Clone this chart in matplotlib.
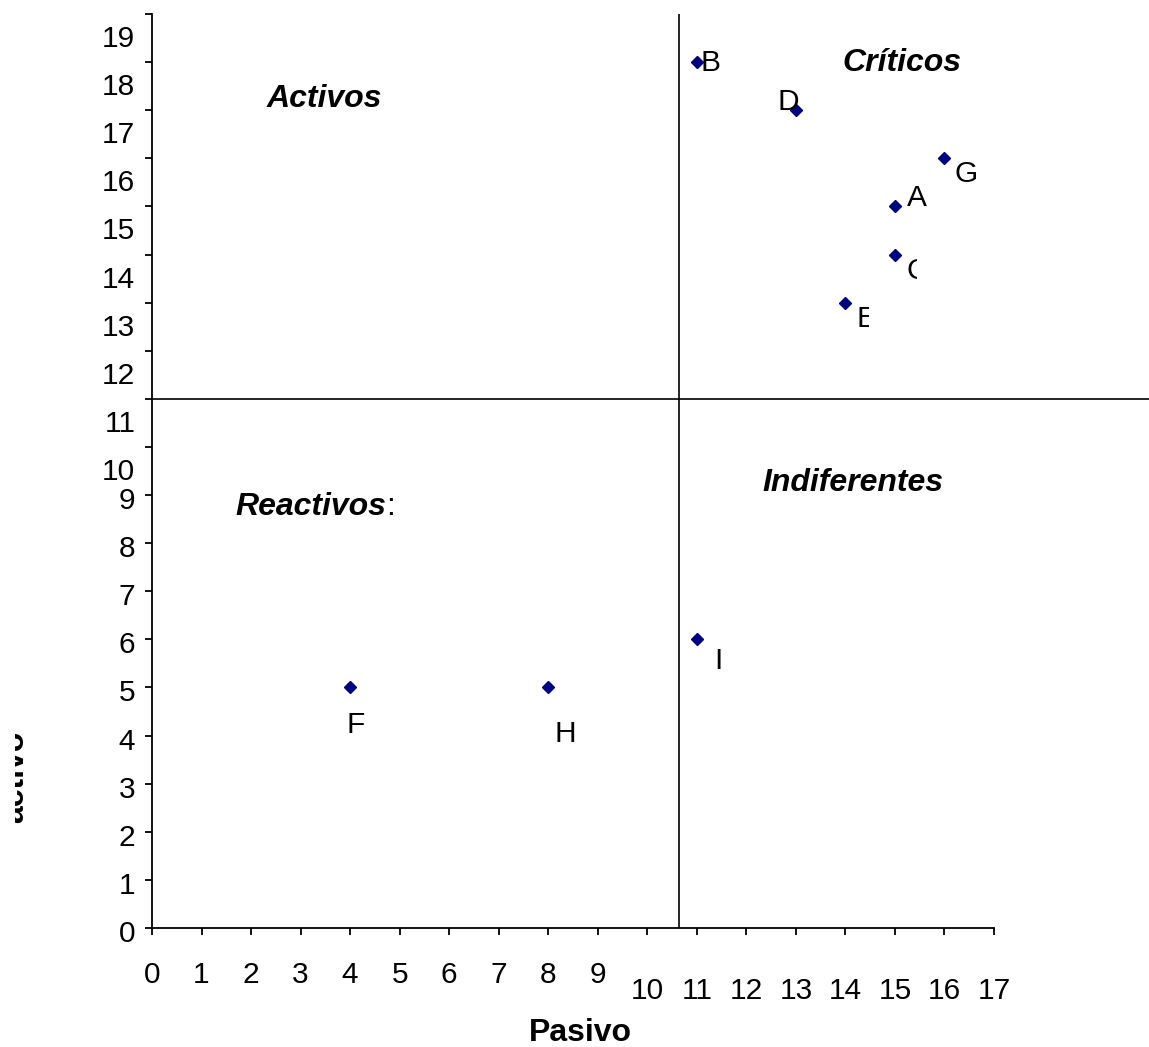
import matplotlib
matplotlib.use("Agg")
import matplotlib.pyplot as plt
from matplotlib.patches import Rectangle
from matplotlib.transforms import Bbox, TransformedBbox, ScaledTranslation

plt.rcParams["font.family"] = ["Liberation Sans", "DejaVu Sans"]

# ---- data ----
nombres = ["A", "B", "C", "D", "E", "F", "G", "H", "I"]
pasivo = [15, 11, 15, 13, 14, 4, 16, 8, 11]
activo = [15, 18, 14, 17, 13, 5, 16, 5, 6]

x_bajos = list(range(0, 10))     # first row of x labels
x_altos = list(range(10, 18))    # second (lower) row of x labels
y_bajos = list(range(0, 10))
y_altos = list(range(10, 20))

# quadrant split
corte_x = 10.64
corte_y = 11

# label offsets in pixels (dx, dy) with dy pointing down
desplaz = {"A": (22, -8), "B": (14, 1), "C": (22, 16), "D": (-8, -8),
           "E": (21, 16), "F": (6, 38), "G": (22, 16), "H": (17, 47),
           "I": (22, 22)}
# labels cut off on the right in the original
recorte = {"C": 15.45, "E": 14.48}

FS = 21.5    # ticks and point labels
FT = 23      # titles
W, H = 1149, 1047

fig = plt.figure(figsize=(W / 100, H / 100), dpi=100)
ax = fig.add_axes([152 / W, (H - 928) / H, (994 - 152) / W, (928 - 14) / H])

ax.set_xlim(0, 17)
ax.set_ylim(0, 19)
for s in ["top", "right"]:
    ax.spines[s].set_visible(False)
for s in ["left", "bottom"]:
    ax.spines[s].set_linewidth(1.3)

ax.set_xticks(x_bajos)
ax.set_xticks(x_altos, minor=True)
ax.set_xticklabels([str(v) for v in x_bajos])
ax.set_xticklabels([str(v) for v in x_altos], minor=True)
ax.set_yticks(y_bajos)
ax.set_yticks(y_altos, minor=True)
ax.set_yticklabels([str(v) for v in y_bajos])
ax.set_yticklabels([str(v) for v in y_altos], minor=True)

ax.tick_params(axis="both", which="both", direction="out", length=5,
               width=1.3, labelsize=FS)
ax.tick_params(axis="x", which="major", pad=19)
ax.tick_params(axis="x", which="minor", pad=30)
ax.tick_params(axis="y", which="both", pad=7)

for lbl in ax.get_yticklabels():
    lbl.set_transform(lbl.get_transform() + ScaledTranslation(0, -3 / 100, fig.dpi_scale_trans))
for lbl in ax.get_yticklabels(minor=True):
    lbl.set_transform(lbl.get_transform() + ScaledTranslation(0, -22 / 100, fig.dpi_scale_trans))

# quadrant lines
ax.axvline(corte_x, color="black", lw=1.2)
ax.axhline(corte_y, xmin=0, xmax=(W - 152) / (994 - 152), color="black",
           lw=1.2, clip_on=False)

# points
ax.plot(pasivo, activo, linestyle="none", marker="D", ms=6,
        color="#000080", clip_on=False, zorder=3)

for n, px, py in zip(nombres, pasivo, activo):
    dx, dy = desplaz[n]
    t = ax.annotate(n, (px, py), xytext=(dx, -dy), textcoords="offset pixels",
                    ha="center", va="center", fontsize=FS)
    if n in recorte:
        t.set_clip_on(True)
        t.set_clip_box(TransformedBbox(Bbox.from_extents(0, 0, recorte[n], 19),
                                       ax.transData))

# quadrant titles
titulo = dict(fontsize=FT, fontweight="bold", fontstyle="italic",
              ha="center", va="center")
ax.text(3.47, 17.23, "Activos", **titulo)
ax.text(15.14, 17.98, "Críticos", **titulo)
ax.text(14.15, 9.25, "Indiferentes", **titulo)
r = ax.text(1.68, 8.75, "Reactivos", fontsize=FT, fontweight="bold",
            fontstyle="italic", ha="left", va="center")
ax.annotate(":", xy=(1, 0), xycoords=r, ha="left", va="bottom", fontsize=FT)

# axis titles
ax.set_xlabel("Pasivo", fontsize=FT, fontweight="bold", va="center")
ax.xaxis.set_label_coords((580 - 152) / 842, (928 - 1033) / 914)

fig.text(23 / W, (H - 777) / H, "activo", fontsize=FT, fontweight="bold",
         rotation=90, rotation_mode="anchor", ha="center", va="baseline")
# the left part of the y title is hidden in the original
fig.add_artist(Rectangle((0, 0), 15 / W, 1, transform=fig.transFigure,
                         facecolor="white", edgecolor="none", zorder=10))

fig.savefig("out.png", dpi=100)
